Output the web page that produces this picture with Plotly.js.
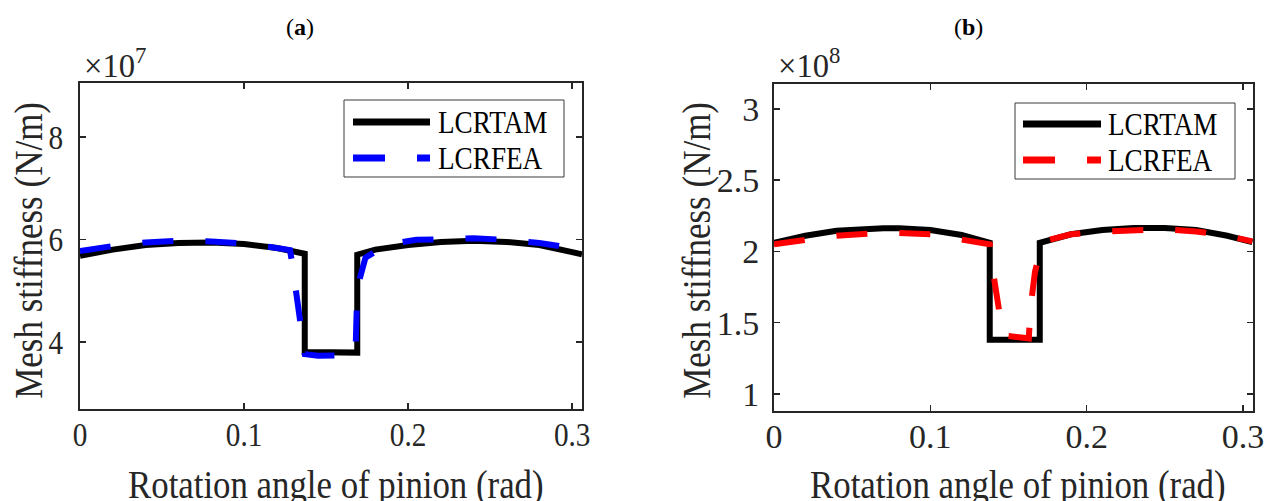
<!DOCTYPE html>
<html>
<head>
<meta charset="utf-8">
<script src="https://cdn.plot.ly/plotly-3.0.1.min.js"></script>
<style>html,body{margin:0;padding:0;background:#fff;overflow:hidden;}#chart{width:1269px;height:501px;}</style>
</head>
<body>
<div id="chart"></div>
<script>
// Panel (a): mesh stiffness, units of 1e7 N/m
const xA_TAM = [0, 0.02, 0.04, 0.06, 0.08, 0.10, 0.12, 0.137, 0.137, 0.169, 0.169, 0.18, 0.20, 0.22, 0.24, 0.26, 0.28, 0.30, 0.306];
const yA_TAM = [5.68, 5.80, 5.89, 5.93, 5.94, 5.91, 5.83, 5.72, 3.80, 3.79, 5.70, 5.80, 5.89, 5.95, 5.97, 5.95, 5.89, 5.77, 5.71];
const xA_FEA = [0, 0.02, 0.04, 0.06, 0.08, 0.10, 0.116, 0.128, 0.129, 0.137, 0.145, 0.155, 0.165, 0.168, 0.169, 0.174, 0.187, 0.205, 0.22, 0.24, 0.26, 0.28, 0.30, 0.306];
const yA_FEA = [5.77, 5.87, 5.94, 5.97, 5.96, 5.92, 5.85, 5.79, 5.60, 3.76, 3.73, 3.73, 3.74, 3.84, 5.05, 5.64, 5.90, 5.99, 6.01, 6.02, 5.99, 5.93, 5.83, 5.79];
// Panel (b): mesh stiffness, units of 1e8 N/m
const xB_TAM = [0, 0.02, 0.04, 0.06, 0.07, 0.08, 0.10, 0.12, 0.138, 0.138, 0.170, 0.170, 0.19, 0.21, 0.23, 0.25, 0.27, 0.29, 0.306];
const yB_TAM = [2.06, 2.11, 2.145, 2.16, 2.163, 2.162, 2.15, 2.115, 2.06, 1.38, 1.38, 2.06, 2.12, 2.15, 2.165, 2.165, 2.15, 2.11, 2.065];
const xB_FEA = [0, 0.02, 0.04, 0.06, 0.08, 0.10, 0.12, 0.138, 0.1395, 0.1465, 0.155, 0.163, 0.164, 0.167, 0.172, 0.19, 0.21, 0.23, 0.25, 0.27, 0.29, 0.306];
const yB_FEA = [2.05, 2.08, 2.11, 2.125, 2.13, 2.12, 2.085, 2.05, 1.90, 1.41, 1.40, 1.39, 1.60, 1.86, 2.07, 2.12, 2.14, 2.15, 2.155, 2.14, 2.11, 2.07];

const seriesNames = ['LCRTAM', 'LCRFEA'];
const panelTitles = ['(<b>a</b>)', '(<b>b</b>)'];
const exponentLabels = ['×10<sup>7</sup>', '×10<sup>8</sup>'];
const xTitle = 'Rotation angle of pinion (rad)';
const yTitle = 'Mesh stiffness (N/m)';
const xTicks = [0, 0.1, 0.2, 0.3];
const yTicksA = [4, 6, 8];
const yTicksB = [1, 1.5, 2, 2.5, 3];

const FONT = 'Liberation Serif, Times New Roman, serif';
const INK = '#262626';
const W = 1269, H = 501;
const px = v => v / W, py = v => 1 - v / H;
const TICK_SQUEEZE = 0.86;

const traces = [
  {x: xA_TAM, y: yA_TAM, xaxis: 'x', yaxis: 'y', name: seriesNames[0], mode: 'lines', showlegend: false,
   line: {color: '#000000', width: 6}},
  {x: xA_FEA, y: yA_FEA, xaxis: 'x', yaxis: 'y', name: seriesNames[1], mode: 'lines', showlegend: false,
   line: {color: '#0000ff', width: 6, dash: '31px,32px'}},
  {x: xB_TAM, y: yB_TAM, xaxis: 'x2', yaxis: 'y2', name: seriesNames[0], mode: 'lines', showlegend: false,
   line: {color: '#000000', width: 6}},
  {x: xB_FEA, y: yB_FEA, xaxis: 'x2', yaxis: 'y2', name: seriesNames[1], mode: 'lines', showlegend: false,
   line: {color: '#ff0000', width: 6, dash: '31px,32px'}}
];

function axisBase() {
  return {
    showline: true, linewidth: 2, linecolor: INK, mirror: 'ticks',
    ticks: 'inside', ticklen: 6, tickwidth: 1.5, tickcolor: INK,
    showgrid: false, zeroline: false,
    tickfont: {family: FONT, size: 34, color: INK}
  };
}

// legend boxes (drawn as shapes + text so spacing matches the figure)
const legends = [
  {box: [344, 564, 100, 177], sample: [353, 430], rows: [122, 158], textX: 436, colors: ['#000000', '#0000ff']},
  {box: [1015, 1235, 103, 179], sample: [1023, 1101], rows: [124, 160], textX: 1106, colors: ['#000000', '#ff0000']}
];

const shapes = [];
const annotations = [];
const annSpec = []; // [squeeze, origin]

legends.forEach(L => {
  shapes.push({type: 'rect', xref: 'paper', yref: 'paper', layer: 'above',
    x0: px(L.box[0]), x1: px(L.box[1]), y0: py(L.box[3]), y1: py(L.box[2]),
    line: {color: '#3a3a3a', width: 1}, fillcolor: '#ffffff'});
  seriesNames.forEach((nm, i) => {
    shapes.push({type: 'line', xref: 'paper', yref: 'paper', layer: 'above',
      x0: px(L.sample[0]), x1: px(L.sample[1]), y0: py(L.rows[i]), y1: py(L.rows[i]),
      line: {color: L.colors[i], width: 7, dash: i === 0 ? 'solid' : '32px,32px'}});
    annotations.push({text: nm, x: px(L.textX), y: py(L.rows[i]), xref: 'paper', yref: 'paper', showarrow: false,
      xanchor: 'left', yanchor: 'middle', font: {family: FONT, size: 32, color: '#000000'}});
    annSpec.push([0.85, 'left']);
  });
});

const panelCenters = [300, 968];
const expX = [82, 776];
const yTitleX = [28, 696];
const xTitleX = [336, 1018];
for (let p = 0; p < 2; p++) {
  annotations.push({text: panelTitles[p], x: px(panelCenters[p]), y: py(27), xref: 'paper', yref: 'paper', showarrow: false,
    xanchor: 'center', yanchor: 'middle', font: {family: FONT, size: 24, color: '#000'}});
  annSpec.push([1, 'center']);
  annotations.push({text: exponentLabels[p], x: px(expX[p]), y: py(63), xref: 'paper', yref: 'paper', showarrow: false,
    xanchor: 'left', yanchor: 'middle', font: {family: FONT, size: 34, color: INK}});
  annSpec.push([0.96, 'left']);
  annotations.push({text: yTitle, x: px(yTitleX[p]), y: py(251), xref: 'paper', yref: 'paper', showarrow: false, textangle: -90,
    xanchor: 'center', yanchor: 'middle', font: {family: FONT, size: 40, color: INK}});
  annSpec.push([0.875, 'center']);
  annotations.push({text: xTitle, x: px(xTitleX[p]), y: py(484), xref: 'paper', yref: 'paper', showarrow: false,
    xanchor: 'center', yanchor: 'middle', font: {family: FONT, size: 40, color: INK}});
  annSpec.push([0.87, 'center']);
}

const layout = {
  width: W, height: H,
  margin: {l: 0, r: 0, t: 0, b: 0},
  paper_bgcolor: '#ffffff', plot_bgcolor: '#ffffff',
  showlegend: false,
  xaxis: Object.assign(axisBase(), {domain: [px(80), px(582)], range: [0, 0.306], tickvals: xTicks, anchor: 'y', ticklabelstandoff: -6}),
  yaxis: Object.assign(axisBase(), {domain: [py(409), py(83)], range: [2.69, 9.05], tickvals: yTicksA, anchor: 'x', ticklabelstandoff: 8}),
  xaxis2: Object.assign(axisBase(), {domain: [px(774), px(1253)], range: [0, 0.3064], tickvals: xTicks, anchor: 'y2', ticklabelstandoff: -6}),
  yaxis2: Object.assign(axisBase(), {domain: [py(411), py(84)], range: [0.88, 3.175], tickvals: yTicksB, anchor: 'x2', ticklabelstandoff: 6}),
  shapes: shapes,
  annotations: annotations
};

function squeeze(el, s, origin) {
  if (s === 1) return;
  const bb = el.getBBox();
  let cx = bb.x + bb.width / 2;
  if (origin === 'left') cx = bb.x;
  else if (origin === 'right') cx = bb.x + bb.width;
  const t = el.getAttribute('transform') || '';
  el.setAttribute('transform', t + ' translate(' + cx + ',0) scale(' + s + ',1) translate(' + (-cx) + ',0)');
}

Plotly.newPlot('chart', traces, layout, {staticPlot: true, displayModeBar: false}).then(gd => {
  gd.querySelectorAll('.xtick text').forEach(el => squeeze(el, TICK_SQUEEZE, 'center'));
  gd.querySelectorAll('.ytick text').forEach(el => squeeze(el, TICK_SQUEEZE, 'right'));
  annSpec.forEach((sp, i) => {
    const el = gd.querySelector('.annotation[data-index="' + i + '"] text.annotation-text');
    if (el) squeeze(el, sp[0], sp[1]);
  });
});
</script>
</body>
</html>
